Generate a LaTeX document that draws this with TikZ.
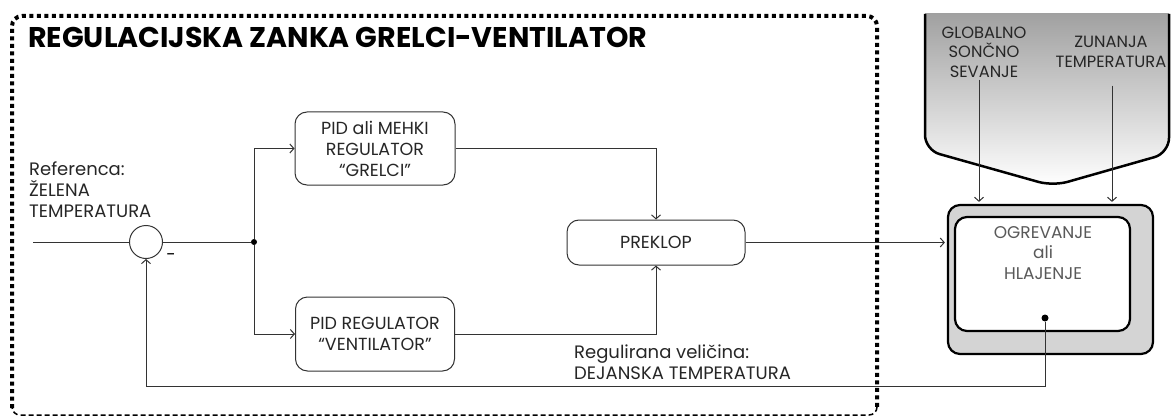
\documentclass[tikz,border=0pt]{standalone}
\usepackage{fontspec}
\setmainfont{Poppins}
\usetikzlibrary{arrows.meta}

\begin{document}
\begin{tikzpicture}[x=1pt, y=-1pt,
    crta/.style={draw=black!80, line width=1pt},
    puscica/.style={crta, -{Straight Barb[length=4pt,width=9pt]}},
    blok/.style={crta, rounded corners=12pt, align=center, font=\fontsize{17.5}{21}\selectfont, text=black!85},
    besedilo/.style={align=left, inner sep=0pt, font=\fontsize{18}{21}\selectfont, text=black!85},
    motnja/.style={align=center, inner sep=2pt, font=\fontsize{16.3}{19.5}\selectfont, text=black!85},
    tocka/.style={circle, fill=black, inner sep=0pt, minimum size=6pt}]
    \useasboundingbox (0,0) rectangle (1172,417);

    % okvir zanke
    \draw[line width=4pt, dash pattern=on 4pt off 3.5pt, rounded corners=10pt] (12,408) -- (12,16) -- (877,16) -- (877,408);
    \draw[line width=1.5pt, dash pattern=on 5pt off 3pt, rounded corners=8pt] (12,404) -- (12,415) -- (877,415) -- (877,404);
    \node (naslov) at (28,37) [anchor=west, inner sep=0pt, font=\fontsize{28.5}{32}\selectfont\bfseries] {REGULACIJSKA ZANKA GRELCI-VENTILATOR};

    % motnje
    \begin{scope}
        \clip (0,14) rectangle (1172,417);
        \shade[top color=black!42, bottom color=white, rounded corners=15pt] (925,-10) -- (925,150) -- (1053,186) -- (1169,153) -- (1169,-10) -- cycle;
    \end{scope}
    \draw[line width=2.5pt, rounded corners=15pt] (925,14) -- (925,150) -- (1053,186) -- (1169,153) -- (1169,14);
    \node (sonce) at (984,52) [motnja] {GLOBALNO\\SONČNO\\SEVANJE};
    \node (zunanja) at (1111,52) [motnja] {ZUNANJA\\TEMPERATURA};

    % proces
    \node (objekt) at (1050.5,279.5) [draw, line width=2.2pt, fill=black!17, rounded corners=12pt, minimum width=205pt, minimum height=149pt] {};
    \node (proces) at (1042.5,274) [draw, line width=2.2pt, fill=white, rounded corners=12pt, minimum width=175pt, minimum height=114pt] {};
    \node (procestekst) at (1043,253) [align=center, text=black!65, font=\fontsize{17}{20.5}\selectfont] {OGREVANJE\\ali\\HLAJENJE};
    \node (izhod) at (1045,318) [tocka, minimum size=7pt] {};

    % regulacijska zanka
    \node (referenca) at (29,190) [besedilo, anchor=west] {Referenca:\\ŽELENA\\TEMPERATURA};
    \coordinate (vhod) at (33,242);
    \node (vsota) at (146,242) [circle, crta, minimum size=33pt, inner sep=0pt] {};
    \node (minus) at (171,257) [font=\fontsize{17}{21}\selectfont] {-};
    \node (razcep) at (254,242) [tocka] {};
    \node (grelci) at (375,148.5) [blok, minimum width=160pt, minimum height=73pt] {PID ali MEHKI\\REGULATOR\\``GRELCI''};
    \node (ventilator) at (375,334) [blok, minimum width=159pt, minimum height=74pt] {PID REGULATOR\\``VENTILATOR''};
    \node (preklop) at (656,242.5) [blok, minimum width=178pt, minimum height=45pt] {PREKLOP};
    \node (regulirana) at (574,362) [besedilo, anchor=west] {Regulirana veličina:\\DEJANSKA TEMPERATURA};
    \coordinate (povratna) at (146,386);

    \draw[crta] (vhod) -- (vsota.west);
    \draw[crta] (vsota.east) -- (razcep);
    \draw[puscica] (razcep) |- (grelci.west);
    \draw[puscica] (razcep) |- (ventilator.west);
    \draw[puscica] (grelci.east) -| (preklop.north);
    \draw[puscica] (ventilator.east) -| (preklop.south);
    \draw[puscica, shorten >=2pt] (preklop.east) -- (preklop.east -| objekt.west);
    \draw[puscica, shorten >=2pt] ([xshift=-5pt]sonce.south) -- ([xshift=-5pt]sonce.south |- objekt.north);
    \draw[puscica, shorten <=16pt, shorten >=2pt] ([xshift=1pt]zunanja.south) -- ([xshift=1pt]zunanja.south |- objekt.north);
    \draw[puscica] (izhod) |- (povratna) -- (vsota.south);
\end{tikzpicture}
\end{document}
